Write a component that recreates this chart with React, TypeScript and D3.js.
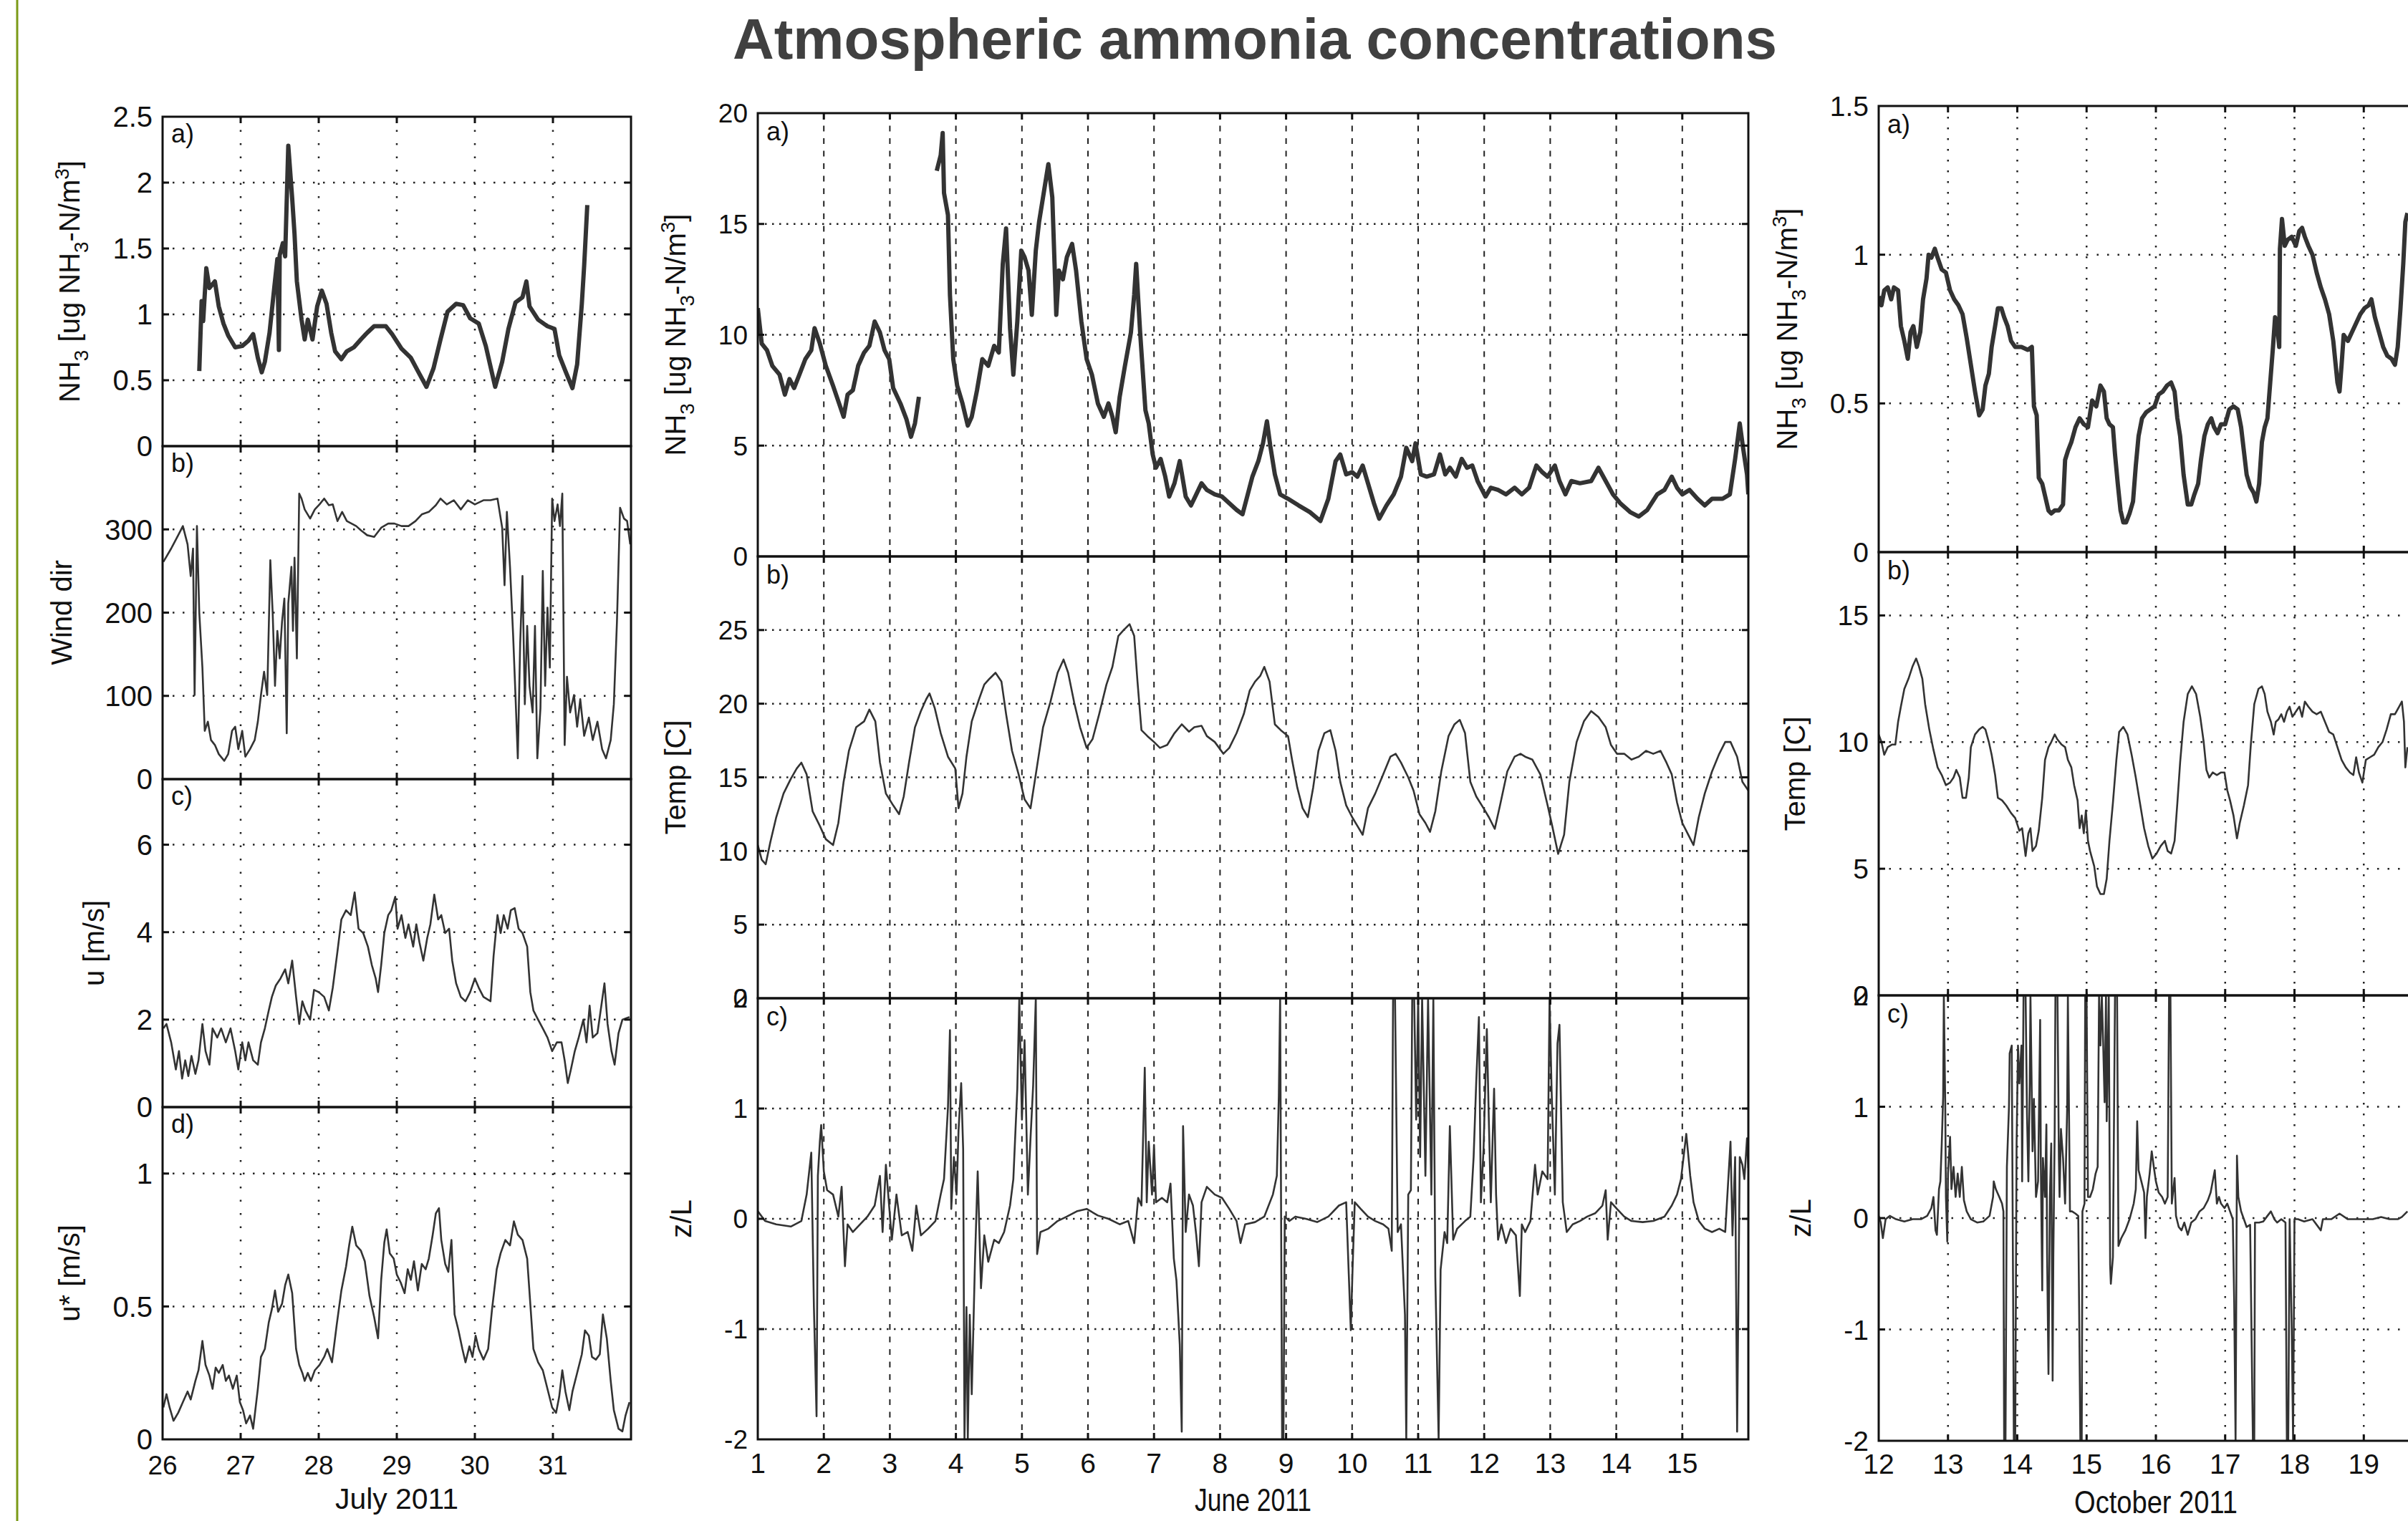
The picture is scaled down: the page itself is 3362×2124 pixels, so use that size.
import React from "react";
import * as d3 from "d3";

type Pt = [number, number];

// ---- July 2011 (left figure) ----
const julyTicks = [26, 27, 28, 29, 30, 31];

const julyNh3: Pt[] = [
  [26.47, 0.57], [26.5, 1.1], [26.52, 0.95], [26.56, 1.35], [26.6, 1.2], [26.67, 1.25], [26.72, 1.06], [26.78, 0.93],
  [26.84, 0.84], [26.93, 0.75], [27.02, 0.76], [27.1, 0.8], [27.16, 0.85], [27.22, 0.67], [27.27, 0.56], [27.31, 0.64],
  [27.37, 0.86], [27.43, 1.2], [27.47, 1.42], [27.49, 0.73], [27.5, 1.45], [27.54, 1.54], [27.57, 1.44], [27.61, 2.28],
  [27.66, 1.88], [27.69, 1.61], [27.72, 1.25], [27.78, 0.96], [27.82, 0.81], [27.86, 0.96], [27.92, 0.81], [27.98, 1.06],
  [28.04, 1.18], [28.1, 1.08], [28.16, 0.86], [28.21, 0.72], [28.29, 0.66], [28.36, 0.72], [28.45, 0.75], [28.54, 0.81],
  [28.62, 0.86], [28.71, 0.91], [28.86, 0.91], [28.94, 0.85], [29.06, 0.74], [29.18, 0.67], [29.27, 0.57], [29.38, 0.45],
  [29.47, 0.59], [29.56, 0.81], [29.65, 1.02], [29.76, 1.08], [29.85, 1.07], [29.94, 0.97], [30.05, 0.93], [30.14, 0.76],
  [30.26, 0.45], [30.35, 0.64], [30.43, 0.89], [30.52, 1.09], [30.61, 1.13], [30.66, 1.25], [30.7, 1.06], [30.81, 0.96],
  [30.93, 0.91], [31.02, 0.89], [31.08, 0.69], [31.16, 0.57], [31.25, 0.44], [31.31, 0.62], [31.37, 1.08], [31.4, 1.37],
  [31.44, 1.83],
];

const julyWind: Pt[] = [
  [26.01, 261], [26.11, 277], [26.2, 293], [26.26, 304], [26.32, 282], [26.36, 244], [26.39, 277], [26.41, 101],
  [26.44, 304], [26.47, 200], [26.51, 134], [26.54, 58], [26.58, 69], [26.62, 47], [26.67, 41], [26.72, 30],
  [26.79, 22], [26.84, 30], [26.89, 58], [26.93, 63], [26.97, 36], [27.02, 58], [27.06, 27], [27.12, 36],
  [27.18, 47], [27.22, 69], [27.26, 101], [27.3, 129], [27.34, 101], [27.38, 263], [27.41, 200], [27.44, 112],
  [27.47, 178], [27.5, 145], [27.53, 189], [27.56, 217], [27.59, 55], [27.61, 211], [27.65, 255], [27.67, 178],
  [27.69, 266], [27.72, 145], [27.75, 343], [27.78, 337], [27.82, 324], [27.89, 313], [27.95, 324], [28.01, 330],
  [28.07, 337], [28.13, 329], [28.18, 330], [28.24, 310], [28.3, 321], [28.36, 310], [28.42, 307], [28.48, 304],
  [28.54, 299], [28.62, 293], [28.71, 291], [28.8, 302], [28.89, 307], [28.97, 307], [29.06, 304], [29.15, 304],
  [29.24, 310], [29.32, 318], [29.41, 321], [29.5, 329], [29.56, 337], [29.64, 330], [29.73, 335], [29.82, 324],
  [29.91, 335], [30.0, 330], [30.11, 335], [30.2, 335], [30.29, 337], [30.35, 302], [30.38, 233], [30.41, 321],
  [30.45, 255], [30.49, 173], [30.52, 101], [30.55, 25], [30.58, 162], [30.61, 244], [30.64, 90], [30.67, 184],
  [30.7, 112], [30.74, 80], [30.77, 184], [30.8, 25], [30.84, 85], [30.87, 250], [30.9, 112], [30.93, 206],
  [30.96, 134], [30.99, 337], [31.02, 310], [31.06, 330], [31.09, 304], [31.12, 343], [31.15, 41], [31.18, 123],
  [31.22, 80], [31.27, 101], [31.31, 63], [31.35, 96], [31.4, 52], [31.46, 74], [31.51, 47], [31.57, 69],
  [31.63, 36], [31.68, 25], [31.74, 47], [31.78, 90], [31.82, 189], [31.86, 326], [31.91, 313], [31.95, 310],
  [31.99, 282],
];

const julyU: Pt[] = [
  [26.01, 1.8], [26.05, 1.9], [26.11, 1.48], [26.17, 0.86], [26.21, 1.28], [26.25, 0.65], [26.29, 1.07], [26.33, 0.71],
  [26.37, 1.17], [26.42, 0.76], [26.46, 1.07], [26.51, 1.9], [26.55, 1.28], [26.6, 0.97], [26.64, 1.8], [26.7, 1.59],
  [26.75, 1.8], [26.81, 1.48], [26.87, 1.8], [26.93, 1.28], [26.97, 0.86], [27.02, 1.48], [27.06, 1.07], [27.1, 1.48],
  [27.16, 1.07], [27.22, 0.97], [27.26, 1.48], [27.31, 1.8], [27.36, 2.21], [27.4, 2.52], [27.45, 2.78], [27.51, 2.94],
  [27.57, 3.15], [27.61, 2.83], [27.66, 3.35], [27.71, 2.52], [27.75, 1.9], [27.79, 2.42], [27.83, 2.21], [27.89, 2.0],
  [27.94, 2.68], [28.0, 2.63], [28.07, 2.52], [28.13, 2.21], [28.18, 2.73], [28.24, 3.56], [28.29, 4.29], [28.35, 4.5],
  [28.41, 4.39], [28.46, 4.91], [28.51, 4.08], [28.57, 3.98], [28.63, 3.67], [28.68, 3.25], [28.73, 2.94], [28.76, 2.63],
  [28.8, 3.25], [28.84, 3.98], [28.89, 4.39], [28.93, 4.5], [28.98, 4.81], [29.01, 4.08], [29.06, 4.39], [29.11, 3.87],
  [29.15, 4.18], [29.21, 3.67], [29.25, 4.18], [29.29, 3.77], [29.34, 3.35], [29.39, 3.87], [29.43, 4.18], [29.48, 4.86],
  [29.53, 4.29], [29.57, 4.39], [29.62, 3.98], [29.67, 4.08], [29.71, 3.35], [29.76, 2.83], [29.82, 2.52], [29.88, 2.42],
  [29.94, 2.63], [30.0, 2.94], [30.05, 2.73], [30.11, 2.52], [30.2, 2.42], [30.24, 3.46], [30.29, 4.39], [30.33, 3.98],
  [30.37, 4.39], [30.42, 4.08], [30.46, 4.5], [30.51, 4.55], [30.56, 4.08], [30.61, 3.98], [30.67, 3.67], [30.71, 2.63],
  [30.75, 2.21], [30.81, 2.0], [30.87, 1.8], [30.93, 1.59], [30.99, 1.28], [31.05, 1.48], [31.11, 1.48], [31.15, 1.07],
  [31.19, 0.55], [31.23, 0.86], [31.28, 1.28], [31.33, 1.59], [31.39, 2.0], [31.43, 1.48], [31.47, 2.32], [31.51, 1.59],
  [31.57, 1.69], [31.62, 2.32], [31.66, 2.83], [31.7, 1.9], [31.75, 1.28], [31.79, 0.97], [31.84, 1.69], [31.89, 2.0],
  [31.98, 2.06],
];

const julyUstar: Pt[] = [
  [26.01, 0.12], [26.05, 0.17], [26.09, 0.12], [26.14, 0.07], [26.2, 0.1], [26.26, 0.14], [26.32, 0.18], [26.36, 0.15],
  [26.42, 0.22], [26.46, 0.26], [26.51, 0.37], [26.55, 0.28], [26.6, 0.24], [26.64, 0.19], [26.68, 0.27], [26.72, 0.25],
  [26.77, 0.28], [26.81, 0.22], [26.85, 0.24], [26.9, 0.19], [26.95, 0.24], [26.99, 0.14], [27.03, 0.11], [27.07, 0.06],
  [27.12, 0.09], [27.16, 0.04], [27.22, 0.19], [27.26, 0.31], [27.31, 0.34], [27.36, 0.44], [27.4, 0.49], [27.44, 0.56],
  [27.48, 0.48], [27.53, 0.51], [27.57, 0.58], [27.61, 0.62], [27.66, 0.55], [27.71, 0.34], [27.75, 0.28], [27.79, 0.25],
  [27.82, 0.22], [27.86, 0.25], [27.9, 0.22], [27.95, 0.26], [28.01, 0.28], [28.07, 0.31], [28.11, 0.34], [28.17, 0.29],
  [28.23, 0.43], [28.29, 0.56], [28.35, 0.65], [28.39, 0.73], [28.43, 0.8], [28.48, 0.73], [28.54, 0.71], [28.59, 0.67],
  [28.65, 0.54], [28.71, 0.46], [28.76, 0.38], [28.8, 0.6], [28.84, 0.74], [28.87, 0.79], [28.91, 0.7], [28.96, 0.68],
  [29.0, 0.62], [29.05, 0.59], [29.1, 0.55], [29.14, 0.64], [29.18, 0.6], [29.22, 0.67], [29.27, 0.56], [29.32, 0.66],
  [29.37, 0.64], [29.41, 0.68], [29.46, 0.77], [29.5, 0.85], [29.54, 0.87], [29.57, 0.75], [29.62, 0.66], [29.66, 0.63],
  [29.7, 0.75], [29.74, 0.47], [29.79, 0.41], [29.84, 0.34], [29.88, 0.29], [29.93, 0.35], [29.97, 0.31], [30.01, 0.39],
  [30.05, 0.34], [30.11, 0.3], [30.17, 0.34], [30.22, 0.49], [30.28, 0.64], [30.33, 0.7], [30.39, 0.75], [30.45, 0.73],
  [30.5, 0.82], [30.55, 0.77], [30.61, 0.75], [30.67, 0.68], [30.71, 0.51], [30.75, 0.34], [30.81, 0.29], [30.87, 0.26],
  [30.93, 0.19], [30.99, 0.12], [31.04, 0.1], [31.08, 0.16], [31.12, 0.26], [31.16, 0.18], [31.21, 0.11], [31.25, 0.18],
  [31.31, 0.25], [31.37, 0.32], [31.41, 0.41], [31.46, 0.39], [31.5, 0.31], [31.55, 0.3], [31.6, 0.32], [31.64, 0.47],
  [31.69, 0.38], [31.74, 0.22], [31.78, 0.11], [31.84, 0.04], [31.89, 0.03], [31.93, 0.09], [31.98, 0.14],
];

// ---- June 2011 (middle figure) ----
const juneTicks = [1, 2, 3, 4, 5, 6, 7, 8, 9, 10, 11, 12, 13, 14, 15];

const juneNh3: Pt[] = [
  [1.0, 11.2], [1.06, 9.6], [1.14, 9.3], [1.22, 8.6], [1.33, 8.2], [1.41, 7.3], [1.48, 8.0], [1.55, 7.6], [1.63, 8.2],
  [1.72, 8.9], [1.81, 9.3], [1.86, 10.3], [1.94, 9.6], [2.03, 8.6], [2.14, 7.7], [2.22, 7.0], [2.3, 6.3], [2.36, 7.3],
  [2.44, 7.5], [2.52, 8.6], [2.61, 9.2], [2.69, 9.5], [2.77, 10.6], [2.85, 10.1], [2.92, 9.3], [2.99, 8.9], [3.05, 7.6],
  [3.16, 6.9], [3.25, 6.2], [3.32, 5.4], [3.38, 6.0], [3.44, 7.2], [3.5, NaN], [3.71, 17.4], [3.77, 18.1], [3.8, 19.1],
  [3.82, 16.4], [3.88, 15.4], [3.91, 11.8], [3.96, 8.9], [4.02, 7.7], [4.1, 6.9], [4.18, 5.9], [4.24, 6.3], [4.32, 7.5],
  [4.4, 8.9], [4.49, 8.6], [4.58, 9.5], [4.65, 9.2], [4.71, 13.2], [4.76, 14.8], [4.82, 10.3], [4.87, 8.2], [4.93, 10.6],
  [4.99, 13.8], [5.04, 13.5], [5.1, 12.9], [5.15, 10.9], [5.21, 13.8], [5.26, 15.1], [5.33, 16.4], [5.4, 17.7],
  [5.46, 16.2], [5.52, 10.9], [5.56, 12.9], [5.62, 12.5], [5.68, 13.5], [5.76, 14.1], [5.82, 12.9], [5.9, 10.6],
  [5.98, 8.9], [6.06, 8.2], [6.15, 6.9], [6.24, 6.3], [6.31, 6.9], [6.37, 6.3], [6.42, 5.6], [6.48, 7.2], [6.56, 8.6],
  [6.65, 10.1], [6.7, 11.8], [6.73, 13.2], [6.79, 10.1], [6.87, 6.6], [6.92, 6.0], [6.98, 4.6], [7.03, 4.0], [7.1, 4.4],
  [7.17, 3.6], [7.23, 2.7], [7.31, 3.3], [7.39, 4.3], [7.48, 2.7], [7.56, 2.3], [7.64, 2.8], [7.72, 3.3], [7.8, 3.0],
  [7.92, 2.8], [8.03, 2.7], [8.14, 2.4], [8.25, 2.1], [8.34, 1.9], [8.42, 2.8], [8.49, 3.6], [8.58, 4.3], [8.65, 5.1],
  [8.71, 6.1], [8.76, 5.0], [8.83, 3.7], [8.91, 2.8], [9.03, 2.6], [9.19, 2.3], [9.36, 2.0], [9.52, 1.6], [9.64, 2.6],
  [9.75, 4.3], [9.82, 4.6], [9.91, 3.7], [10.0, 3.8], [10.08, 3.6], [10.16, 4.1], [10.24, 3.3], [10.33, 2.4],
  [10.41, 1.7], [10.52, 2.3], [10.63, 2.8], [10.74, 3.6], [10.82, 4.9], [10.91, 4.3], [10.96, 5.1], [11.04, 3.7],
  [11.13, 3.6], [11.24, 3.7], [11.33, 4.6], [11.41, 3.7], [11.48, 4.0], [11.57, 3.6], [11.66, 4.4], [11.74, 4.0],
  [11.82, 4.1], [11.9, 3.4], [12.02, 2.7], [12.1, 3.1], [12.21, 3.0], [12.33, 2.8], [12.46, 3.1], [12.57, 2.8],
  [12.68, 3.1], [12.79, 4.1], [12.88, 3.8], [12.96, 3.6], [13.07, 4.1], [13.14, 3.4], [13.23, 2.8], [13.32, 3.4],
  [13.45, 3.3], [13.62, 3.4], [13.73, 4.0], [13.84, 3.4], [13.95, 2.8], [14.06, 2.4], [14.21, 2.0], [14.34, 1.8],
  [14.47, 2.1], [14.62, 2.8], [14.73, 3.0], [14.84, 3.6], [14.92, 3.1], [15.0, 2.8], [15.11, 3.0], [15.23, 2.6],
  [15.34, 2.3], [15.45, 2.6], [15.61, 2.6], [15.72, 2.8], [15.8, 4.4], [15.87, 6.0], [15.92, 4.9], [15.98, 3.7],
  [16.0, 2.8],
];

const juneTemp: Pt[] = [
  [1.0, 10.4], [1.06, 9.4], [1.12, 9.1], [1.19, 10.6], [1.28, 12.3], [1.39, 13.9], [1.5, 14.9], [1.59, 15.6], [1.66, 16.0],
  [1.74, 15.2], [1.83, 12.7], [1.94, 11.7], [2.03, 10.8], [2.14, 10.4], [2.22, 11.9], [2.3, 14.7], [2.38, 16.8],
  [2.49, 18.4], [2.61, 18.8], [2.69, 19.6], [2.78, 18.8], [2.85, 16.0], [2.94, 13.9], [3.05, 13.1], [3.14, 12.5],
  [3.21, 13.7], [3.29, 16.0], [3.38, 18.4], [3.47, 19.5], [3.55, 20.3], [3.6, 20.7], [3.68, 19.7], [3.77, 18.0],
  [3.88, 16.4], [3.99, 15.6], [4.04, 12.9], [4.1, 13.9], [4.16, 16.4], [4.24, 18.8], [4.35, 20.3], [4.43, 21.3],
  [4.51, 21.7], [4.6, 22.1], [4.69, 21.5], [4.76, 19.3], [4.85, 16.8], [4.95, 15.2], [5.04, 13.5], [5.13, 12.9],
  [5.21, 15.2], [5.32, 18.4], [5.43, 20.1], [5.54, 22.1], [5.63, 23.0], [5.7, 22.1], [5.79, 20.1], [5.88, 18.4],
  [5.98, 17.0], [6.07, 17.6], [6.17, 19.3], [6.28, 21.3], [6.37, 22.5], [6.46, 24.6], [6.54, 25.0], [6.63, 25.4],
  [6.7, 24.6], [6.75, 21.5], [6.81, 18.2], [6.9, 17.8], [7.0, 17.4], [7.09, 17.0], [7.2, 17.2], [7.31, 18.0],
  [7.42, 18.6], [7.53, 18.1], [7.61, 18.4], [7.72, 18.5], [7.8, 17.8], [7.92, 17.4], [8.05, 16.6], [8.14, 17.0],
  [8.25, 18.0], [8.36, 19.3], [8.45, 20.9], [8.53, 21.5], [8.61, 21.9], [8.67, 22.5], [8.75, 21.5], [8.83, 18.6],
  [8.92, 18.2], [9.03, 17.8], [9.09, 16.2], [9.17, 14.3], [9.25, 12.9], [9.33, 12.3], [9.41, 14.3], [9.49, 16.8],
  [9.58, 18.0], [9.67, 18.2], [9.75, 16.8], [9.82, 14.7], [9.91, 13.1], [10.0, 12.3], [10.08, 11.7], [10.16, 11.1],
  [10.24, 12.9], [10.35, 13.9], [10.47, 15.2], [10.58, 16.4], [10.66, 16.6], [10.74, 16.0], [10.85, 15.0],
  [10.93, 14.1], [11.02, 12.5], [11.11, 11.9], [11.18, 11.3], [11.26, 12.7], [11.35, 15.4], [11.46, 17.8],
  [11.55, 18.6], [11.63, 18.9], [11.71, 18.0], [11.79, 14.7], [11.88, 13.7], [11.99, 12.9], [12.07, 12.3],
  [12.16, 11.5], [12.24, 13.1], [12.35, 15.4], [12.46, 16.4], [12.55, 16.6], [12.62, 16.4], [12.73, 16.2],
  [12.85, 15.2], [12.96, 13.1], [13.03, 11.7], [13.12, 9.8], [13.21, 11.1], [13.29, 14.7], [13.4, 17.4], [13.51, 18.8],
  [13.62, 19.5], [13.73, 19.1], [13.84, 18.4], [13.92, 17.2], [14.01, 16.6], [14.12, 16.6], [14.23, 16.2],
  [14.34, 16.4], [14.45, 16.8], [14.56, 16.6], [14.67, 16.8], [14.76, 16.0], [14.84, 15.2], [14.92, 13.3],
  [15.0, 11.9], [15.09, 11.1], [15.17, 10.4], [15.25, 12.3], [15.34, 13.9], [15.45, 15.4], [15.56, 16.6],
  [15.65, 17.4], [15.73, 17.4], [15.83, 16.4], [15.91, 14.7], [16.0, 14.1],
];

const juneZL: Pt[] = [
  [1.0, 0.07], [1.11, -0.02], [1.28, -0.05], [1.5, -0.07], [1.66, -0.02], [1.74, 0.22], [1.81, 0.6], [1.85, -0.8],
  [1.89, -1.79], [1.91, 0.39], [1.94, 0.7], [1.96, 0.85], [2.0, 0.43], [2.05, 0.26], [2.14, 0.22], [2.22, 0.02],
  [2.27, 0.29], [2.32, -0.43], [2.36, -0.05], [2.44, -0.12], [2.55, -0.05], [2.66, 0.02], [2.77, 0.12], [2.85, 0.39],
  [2.89, -0.12], [2.94, 0.49], [2.97, 0.26], [3.03, -0.19], [3.1, 0.22], [3.18, -0.15], [3.27, -0.12], [3.34, -0.29],
  [3.4, 0.12], [3.47, -0.15], [3.58, -0.09], [3.69, -0.02], [3.77, 0.22], [3.82, 0.36], [3.88, 1.01], [3.91, 1.71],
  [3.93, 0.09], [3.97, 0.56], [4.01, 0.22], [4.04, 0.8], [4.08, 1.23], [4.11, 0.63], [4.13, -2], [4.16, -0.8],
  [4.18, -2], [4.21, -0.87], [4.24, -1.59], [4.29, -0.36], [4.33, 0.43], [4.38, -0.63], [4.43, -0.15], [4.49, -0.39],
  [4.58, -0.19], [4.65, -0.22], [4.73, -0.12], [4.82, 0.12], [4.87, 0.36], [4.93, 1.18], [4.96, 2], [5.0, 0.9],
  [5.04, 1.62], [5.09, 0.22], [5.13, 0.73], [5.17, 1.21], [5.21, 2], [5.23, -0.32], [5.28, -0.12], [5.4, -0.09],
  [5.54, -0.02], [5.68, 0.02], [5.84, 0.07], [5.98, 0.09], [6.15, 0.03], [6.31, 0], [6.48, -0.05], [6.61, -0.02],
  [6.7, -0.22], [6.76, 0.19], [6.81, 0.12], [6.86, 1.37], [6.89, 0.15], [6.92, 0.7], [6.97, 0.22], [7.0, 0.67],
  [7.03, 0.15], [7.12, 0.19], [7.2, 0.15], [7.25, 0.32], [7.3, -0.36], [7.34, -0.56], [7.39, -1.14], [7.42, -1.93],
  [7.44, 0.84], [7.48, -0.12], [7.53, 0.22], [7.59, 0.12], [7.64, -0.15], [7.68, -0.43], [7.72, 0.15], [7.8, 0.29],
  [7.92, 0.22], [8.03, 0.19], [8.14, 0.09], [8.25, -0.02], [8.31, -0.22], [8.38, -0.05], [8.53, -0.03], [8.67, 0.02],
  [8.8, 0.22], [8.86, 0.39], [8.89, 1.11], [8.91, 2], [8.94, -2], [8.96, -2], [8.98, 0.02], [9.05, -0.02], [9.14, 0.02],
  [9.3, 0], [9.47, -0.03], [9.64, 0.02], [9.8, 0.12], [9.91, 0.15], [9.98, -1.01], [10.01, -0.39], [10.04, 0.15],
  [10.13, 0.09], [10.24, 0.02], [10.35, -0.02], [10.47, -0.05], [10.55, -0.09], [10.6, -0.29], [10.62, 2], [10.65, 2],
  [10.69, -0.12], [10.74, -0.05], [10.8, -0.87], [10.82, -2], [10.85, 0.22], [10.89, 0.26], [10.91, 2], [10.94, 2],
  [10.97, 0.9], [11.0, 2], [11.03, 0.56], [11.06, 2], [11.11, 0.39], [11.15, 2], [11.2, 0.22], [11.23, 2],
  [11.26, -0.53], [11.31, -2], [11.34, -0.46], [11.4, -0.12], [11.44, -0.22], [11.48, 0.84], [11.53, -0.19],
  [11.59, -0.09], [11.71, -0.02], [11.79, 0.02], [11.84, 0.56], [11.88, 1.25], [11.92, 1.83], [11.95, 0.15],
  [11.99, 0.63], [12.04, 1.72], [12.07, 0.9], [12.1, 0.15], [12.15, 1.18], [12.18, 0.22], [12.21, -0.19],
  [12.26, -0.05], [12.33, -0.22], [12.4, -0.09], [12.48, -0.15], [12.54, -0.7], [12.57, -0.05], [12.62, -0.12],
  [12.7, -0.02], [12.77, 0.49], [12.81, 0.22], [12.88, 0.43], [12.96, 0.36], [12.99, 2], [13.02, 1.18], [13.07, 0.22],
  [13.11, 1.59], [13.14, 1.76], [13.19, 0.15], [13.25, -0.12], [13.34, -0.05], [13.45, -0.02], [13.56, 0.02],
  [13.68, 0.05], [13.79, 0.12], [13.84, 0.26], [13.87, -0.19], [13.92, 0.15], [14.01, 0.09], [14.12, 0.02],
  [14.23, -0.02], [14.4, -0.03], [14.56, -0.02], [14.73, 0.02], [14.84, 0.12], [14.92, 0.22], [14.98, 0.36],
  [15.06, 0.77], [15.12, 0.39], [15.17, 0.15], [15.25, -0.02], [15.34, -0.09], [15.45, -0.12], [15.56, -0.09],
  [15.65, -0.12], [15.73, 0.7], [15.76, -0.15], [15.8, 0.56], [15.83, -1.93], [15.87, 0.56], [15.91, 0.49],
  [15.94, 0.36], [15.98, 0.73], [16.0, 0.46],
];

// ---- October 2011 (right figure, cut at the image edge) ----
const octTicks = [12, 13, 14, 15, 16, 17, 18, 19];

const octNh3: Pt[] = [
  [12.0, 0.86], [12.04, 0.83], [12.08, 0.88], [12.13, 0.89], [12.18, 0.85], [12.22, 0.89], [12.28, 0.88], [12.32, 0.76],
  [12.37, 0.71], [12.42, 0.65], [12.46, 0.74], [12.5, 0.76], [12.55, 0.69], [12.6, 0.74], [12.64, 0.85], [12.69, 0.92],
  [12.72, 1.0], [12.76, 0.99], [12.81, 1.02], [12.85, 0.99], [12.91, 0.95], [12.97, 0.94], [13.03, 0.88], [13.09, 0.85],
  [13.15, 0.83], [13.21, 0.8], [13.27, 0.72], [13.33, 0.63], [13.39, 0.54], [13.45, 0.46], [13.5, 0.48], [13.54, 0.56],
  [13.59, 0.6], [13.63, 0.69], [13.68, 0.76], [13.72, 0.82], [13.77, 0.82], [13.81, 0.79], [13.86, 0.76], [13.91, 0.71],
  [13.97, 0.69], [14.06, 0.69], [14.15, 0.68], [14.21, 0.69], [14.24, 0.49], [14.28, 0.46], [14.31, 0.25], [14.36, 0.23],
  [14.4, 0.19], [14.45, 0.14], [14.49, 0.13], [14.54, 0.14], [14.6, 0.14], [14.66, 0.16], [14.69, 0.31], [14.73, 0.34],
  [14.78, 0.37], [14.84, 0.42], [14.9, 0.45], [14.96, 0.43], [15.02, 0.42], [15.08, 0.51], [15.14, 0.49], [15.2, 0.56],
  [15.25, 0.54], [15.29, 0.45], [15.33, 0.43], [15.38, 0.42], [15.41, 0.33], [15.45, 0.23], [15.49, 0.14], [15.53, 0.1],
  [15.57, 0.1], [15.62, 0.13], [15.67, 0.17], [15.71, 0.29], [15.75, 0.39], [15.8, 0.45], [15.86, 0.47], [15.92, 0.48],
  [15.98, 0.49], [16.04, 0.53], [16.1, 0.54], [16.16, 0.56], [16.22, 0.57], [16.27, 0.54], [16.31, 0.45], [16.35, 0.39],
  [16.4, 0.26], [16.46, 0.16], [16.51, 0.16], [16.55, 0.19], [16.61, 0.23], [16.65, 0.31], [16.7, 0.39], [16.75, 0.43],
  [16.8, 0.45], [16.84, 0.42], [16.89, 0.4], [16.94, 0.43], [17.0, 0.43], [17.06, 0.48], [17.12, 0.49], [17.18, 0.48],
  [17.23, 0.42], [17.27, 0.34], [17.31, 0.26], [17.36, 0.22], [17.41, 0.2], [17.45, 0.17], [17.49, 0.23], [17.53, 0.37],
  [17.57, 0.42], [17.61, 0.45], [17.65, 0.57], [17.69, 0.69], [17.72, 0.79], [17.75, 0.76], [17.78, 0.69], [17.79, 1.02],
  [17.82, 1.12], [17.86, 1.03], [17.9, 1.05], [17.96, 1.06], [18.02, 1.03], [18.07, 1.08], [18.11, 1.09], [18.15, 1.06],
  [18.2, 1.03], [18.26, 1.0], [18.32, 0.94], [18.38, 0.89], [18.44, 0.85], [18.5, 0.8], [18.56, 0.71], [18.62, 0.57],
  [18.65, 0.54], [18.68, 0.63], [18.71, 0.73], [18.77, 0.71], [18.83, 0.74], [18.89, 0.77], [18.95, 0.8], [19.01, 0.82],
  [19.07, 0.83], [19.11, 0.85], [19.16, 0.79], [19.22, 0.74], [19.28, 0.69], [19.34, 0.66], [19.4, 0.65], [19.45, 0.63],
  [19.49, 0.69], [19.53, 0.82], [19.57, 0.97], [19.6, 1.11], [19.63, 1.14],
];

const octTemp: Pt[] = [
  [12.0, 10.3], [12.04, 10.0], [12.08, 9.5], [12.13, 9.8], [12.19, 9.9], [12.24, 9.9], [12.28, 10.8], [12.32, 11.4],
  [12.37, 12.1], [12.43, 12.5], [12.49, 13.0], [12.54, 13.3], [12.58, 13.0], [12.63, 12.5], [12.67, 11.5], [12.73, 10.5],
  [12.79, 9.7], [12.85, 9.0], [12.91, 8.7], [12.97, 8.3], [13.03, 8.4], [13.08, 8.6], [13.12, 8.9], [13.17, 8.6],
  [13.21, 7.8], [13.26, 7.8], [13.3, 8.6], [13.33, 9.8], [13.39, 10.3], [13.45, 10.5], [13.5, 10.6], [13.54, 10.5],
  [13.59, 10.0], [13.63, 9.5], [13.68, 8.7], [13.72, 7.8], [13.78, 7.7], [13.84, 7.5], [13.91, 7.2], [13.97, 7.0],
  [14.03, 6.5], [14.07, 6.6], [14.12, 5.5], [14.16, 6.4], [14.19, 6.6], [14.22, 5.7], [14.27, 5.9], [14.31, 6.5],
  [14.36, 7.8], [14.4, 9.3], [14.45, 9.8], [14.49, 10.0], [14.54, 10.3], [14.58, 10.1], [14.64, 9.9], [14.69, 9.8],
  [14.73, 9.3], [14.78, 9.0], [14.82, 8.3], [14.87, 7.7], [14.9, 6.6], [14.93, 7.1], [14.96, 6.4], [14.99, 7.3],
  [15.02, 6.1], [15.05, 5.7], [15.11, 5.1], [15.15, 4.3], [15.2, 4.0], [15.25, 4.0], [15.29, 4.6], [15.33, 6.1],
  [15.38, 7.6], [15.43, 9.3], [15.47, 10.4], [15.53, 10.6], [15.59, 10.3], [15.65, 9.5], [15.71, 8.6], [15.77, 7.6],
  [15.83, 6.6], [15.89, 5.9], [15.95, 5.4], [16.01, 5.6], [16.07, 5.9], [16.13, 6.1], [16.17, 5.7], [16.22, 5.6],
  [16.27, 6.1], [16.31, 7.6], [16.35, 9.2], [16.4, 10.8], [16.46, 11.9], [16.52, 12.2], [16.58, 11.9], [16.64, 11.0],
  [16.69, 10.0], [16.73, 8.9], [16.77, 8.6], [16.82, 8.8], [16.88, 8.7], [16.94, 8.8], [16.99, 8.8], [17.03, 8.1],
  [17.07, 7.7], [17.12, 7.1], [17.17, 6.2], [17.21, 6.8], [17.27, 7.5], [17.33, 8.3], [17.37, 9.9], [17.42, 11.5],
  [17.48, 12.1], [17.53, 12.2], [17.57, 11.9], [17.61, 11.2], [17.66, 10.8], [17.7, 10.3], [17.73, 10.8], [17.77, 10.9],
  [17.81, 11.1], [17.85, 10.8], [17.89, 11.2], [17.93, 11.4], [17.97, 11.0], [18.02, 11.2], [18.07, 11.4], [18.11, 11.0],
  [18.15, 11.6], [18.2, 11.4], [18.26, 11.2], [18.32, 11.1], [18.38, 11.2], [18.44, 10.8], [18.5, 10.4], [18.56, 10.3],
  [18.62, 9.8], [18.68, 9.3], [18.74, 9.0], [18.8, 8.8], [18.85, 8.7], [18.89, 9.4], [18.93, 8.8], [18.98, 8.4],
  [19.03, 9.3], [19.09, 9.4], [19.15, 9.5], [19.21, 9.8], [19.27, 10.0], [19.33, 10.5], [19.39, 11.1], [19.45, 11.1],
  [19.51, 11.4], [19.55, 11.6], [19.58, 10.8], [19.6, 9.0], [19.63, 9.8],
];

const octZL: Pt[] = [
  [12.0, 0.02], [12.03, -0.04], [12.06, -0.18], [12.1, -0.01], [12.16, 0.02], [12.25, -0.01], [12.37, -0.03],
  [12.49, -0.01], [12.61, -0.01], [12.7, 0.02], [12.76, 0.09], [12.79, 0.19], [12.82, -0.11], [12.84, -0.15],
  [12.87, 0.26], [12.89, 0.33], [12.91, 0.67], [12.93, 1.09], [12.94, 2], [12.96, 1.04], [12.97, 0.19], [12.99, -0.21],
  [13.0, 0.4], [13.03, 0.73], [13.05, 0.26], [13.08, 0.46], [13.11, 0.19], [13.14, 0.4], [13.17, 0.19], [13.2, 0.46],
  [13.23, 0.16], [13.27, 0.06], [13.33, -0.01], [13.42, -0.04], [13.51, -0.03], [13.6, 0.02], [13.65, 0.19],
  [13.66, 0.33], [13.69, 0.26], [13.74, 0.19], [13.78, 0.13], [13.8, 0.06], [13.81, -2], [13.83, -2], [13.85, 0.46],
  [13.88, 1.0], [13.89, 1.48], [13.92, 1.55], [13.94, -0.72], [13.95, -2], [13.97, -2], [13.99, 0.67], [14.01, 1.55],
  [14.03, 1.21], [14.06, 1.55], [14.07, 0.33], [14.09, 2], [14.12, 2], [14.14, 0.94], [14.16, 0.33], [14.18, 1.21],
  [14.19, 2], [14.22, 0.6], [14.24, 1.07], [14.27, 0.19], [14.3, 0.33], [14.33, 1.78], [14.34, 0.46], [14.36, -0.65],
  [14.37, 0.54], [14.4, 0.19], [14.42, 0.84], [14.43, -0.31], [14.45, -1.4], [14.47, 0.19], [14.49, 0.67],
  [14.51, -1.46], [14.52, -0.35], [14.54, 0.8], [14.55, 2], [14.58, 2], [14.6, 0.54], [14.61, 0.19], [14.63, 0.8],
  [14.66, 0.54], [14.69, 0.13], [14.72, 1.0], [14.73, 2], [14.76, 0.06], [14.79, 0.06], [14.84, 0.04], [14.88, 0.02],
  [14.91, -2], [14.93, -2], [14.94, 0.06], [14.97, 0.13], [14.98, 2], [15.0, 2], [15.02, 0.19], [15.05, 0.19],
  [15.09, 0.26], [15.13, 0.4], [15.16, 0.46], [15.18, 2], [15.2, 1.55], [15.22, 2], [15.24, 1.55], [15.26, 1.04],
  [15.28, 2], [15.29, 0.87], [15.32, 2], [15.34, -0.42], [15.35, -0.59], [15.38, -0.35], [15.41, 2], [15.44, 2],
  [15.46, -0.25], [15.5, -0.18], [15.56, -0.11], [15.62, -0.01], [15.68, 0.13], [15.71, 0.26], [15.73, 0.87],
  [15.75, 0.43], [15.79, 0.33], [15.83, 0.23], [15.85, -0.18], [15.87, 0.19], [15.91, 0.4], [15.94, 0.6],
  [15.97, 0.46], [16.0, 0.33], [16.04, 0.23], [16.09, 0.19], [16.13, 0.13], [16.17, 0.19], [16.19, 2], [16.21, 2],
  [16.23, 0.13], [16.27, 0.36], [16.29, 0.02], [16.33, -0.08], [16.37, -0.11], [16.41, -0.04], [16.46, -0.15],
  [16.51, -0.04], [16.57, -0.01], [16.63, 0.06], [16.69, 0.09], [16.75, 0.16], [16.79, 0.23], [16.82, 0.33],
  [16.85, 0.43], [16.88, 0.13], [16.91, 0.19], [16.94, 0.13], [16.99, 0.09], [17.03, 0.13], [17.07, 0.06],
  [17.11, -0.01], [17.13, -0.75], [17.15, -2], [17.17, 0.56], [17.19, 0.19], [17.23, 0.06], [17.27, -0.01],
  [17.31, -0.08], [17.36, -0.06], [17.4, -2], [17.42, -2], [17.43, -0.04], [17.49, -0.04], [17.55, -0.03], [17.61, 0.02],
  [17.66, 0.06], [17.71, -0.01], [17.75, -0.04], [17.81, -0.01], [17.87, -0.04], [17.89, -2], [17.91, -2],
  [17.93, -0.01], [17.96, -0.99], [17.98, -2], [18.0, -0.01], [18.05, -0.01], [18.14, -0.03], [18.26, -0.01],
  [18.38, -0.11], [18.41, -0.01], [18.53, -0.01], [18.65, 0.04], [18.77, -0.01], [18.89, -0.01], [19.01, -0.01],
  [19.13, -0.01], [19.25, 0.01], [19.37, -0.01], [19.49, -0.01], [19.55, 0.01], [19.63, 0.06],
];

const FONT = "'Liberation Sans', Arial, Helvetica, sans-serif";
const W = 3362;
const H = 2124;

// approximate glyph widths (em) for tick labels
const charW = (s: string) =>
  Array.from(s).reduce((w, c) => w + (c === "." ? 0.278 : c === "-" ? 0.333 : 0.556), 0);

const nh3Label = (
  <>
    <tspan>NH</tspan>
    <tspan fontSize={28} dy={12}>3</tspan>
    <tspan dy={-12}>{" [ug NH"}</tspan>
    <tspan fontSize={28} dy={12}>3</tspan>
    <tspan dy={-12}>{"-N/m"}</tspan>
    <tspan fontSize={28} dy={-15}>3</tspan>
    <tspan dy={15}>]</tspan>
  </>
);

type PanelDef = {
  tag: string;
  ylabel: React.ReactNode;
  top: number;
  bottom: number;
  yDomain: [number, number];
  yTicks: number[];
  data: Pt[];
  heavy?: boolean;
};

type ColumnDef = {
  key: string;
  left: number;
  right: number;
  xDomain: [number, number];
  xTicks: number[];
  xlabel: string;
  xlabelFit: number;
  yTickSize: number;
  xTickSize: number;
  xlabelSize: number;
  xTickBase: number;
  xlabelBase: number;
  hDash: string;
  vDash: string;
  vWidth: number;
  tagDy: number;
  panels: PanelDef[];
};

const columns: ColumnDef[] = [
  {
    key: "jul", left: 227, right: 881, xDomain: [26, 32], xTicks: julyTicks,
    xlabel: "July 2011", xlabelFit: 172, yTickSize: 40, xTickSize: 37, xlabelSize: 40,
    xTickBase: 2059, xlabelBase: 2107, hDash: "2.5 11.5", vDash: "2.5 16", vWidth: 2.5, tagDy: 36,
    panels: [
      { tag: "a)", ylabel: nh3Label, top: 163, bottom: 623, yDomain: [0, 2.5], yTicks: [0, 0.5, 1, 1.5, 2, 2.5], data: julyNh3, heavy: true },
      { tag: "b)", ylabel: "Wind dir", top: 623, bottom: 1088, yDomain: [0, 400], yTicks: [0, 100, 200, 300], data: julyWind },
      { tag: "c)", ylabel: "u [m/s]", top: 1088, bottom: 1546, yDomain: [0, 7.5], yTicks: [0, 2, 4, 6], data: julyU },
      { tag: "d)", ylabel: "u* [m/s]", top: 1546, bottom: 2010, yDomain: [0, 1.25], yTicks: [0, 0.5, 1], data: julyUstar },
    ],
  },
  {
    key: "jun", left: 1058, right: 2441, xDomain: [1, 16], xTicks: juneTicks,
    xlabel: "June 2011", xlabelFit: 163, yTickSize: 37, xTickSize: 39, xlabelSize: 44,
    xTickBase: 2057, xlabelBase: 2110, hDash: "2.5 7.5", vDash: "8 9.5", vWidth: 2, tagDy: 38,
    panels: [
      { tag: "a)", ylabel: nh3Label, top: 158, bottom: 777, yDomain: [0, 20], yTicks: [0, 5, 10, 15, 20], data: juneNh3, heavy: true },
      { tag: "b)", ylabel: "Temp [C]", top: 777, bottom: 1394, yDomain: [0, 30], yTicks: [0, 5, 10, 15, 20, 25], data: juneTemp },
      { tag: "c)", ylabel: "z/L", top: 1394, bottom: 2010, yDomain: [-2, 2], yTicks: [-2, -1, 0, 1, 2], data: juneZL },
    ],
  },
  {
    key: "oct", left: 2623, right: 3397, xDomain: [12, 20], xTicks: octTicks,
    xlabel: "October 2011", xlabelFit: 228, yTickSize: 39, xTickSize: 39, xlabelSize: 44,
    xTickBase: 2058, xlabelBase: 2113, hDash: "2.5 12", vDash: "2.5 12.5", vWidth: 2.5, tagDy: 38,
    panels: [
      { tag: "a)", ylabel: nh3Label, top: 148, bottom: 771, yDomain: [0, 1.5], yTicks: [0, 0.5, 1, 1.5], data: octNh3, heavy: true },
      { tag: "b)", ylabel: "Temp [C]", top: 771, bottom: 1390, yDomain: [0, 17.5], yTicks: [0, 5, 10, 15], data: octTemp },
      { tag: "c)", ylabel: "z/L", top: 1390, bottom: 2012, yDomain: [-2, 2], yTicks: [-2, -1, 0, 1, 2], data: octZL },
    ],
  },
];

const fmt = (v: number) => String(v);

function Panel({ col, p, i, last }: { col: ColumnDef; p: PanelDef; i: number; last: boolean }) {
  const x = d3.scaleLinear().domain(col.xDomain).range([col.left, col.right]);
  const y = d3.scaleLinear().domain(p.yDomain).range([p.bottom, p.top]);
  const line = d3
    .line<Pt>()
    .defined((d) => Number.isFinite(d[1]))
    .x((d) => x(d[0]))
    .y((d) => y(d[1]));
  const clipId = `clip-${col.key}-${i}`;
  const innerX = col.xTicks.filter((t) => t > col.xDomain[0] && t < col.xDomain[1]);
  const innerY = p.yTicks.filter((t) => t > p.yDomain[0] && t < p.yDomain[1]);
  const tickRight = col.left - 14;
  const maxW = Math.max(...p.yTicks.map((t) => charW(fmt(t)))) * col.yTickSize;
  const labelX = tickRight - maxW - 46;
  const tl = 9;

  return (
    <g>
      <defs>
        <clipPath id={clipId}>
          <rect x={col.left} y={p.top} width={col.right - col.left} height={p.bottom - p.top} />
        </clipPath>
      </defs>
      <g stroke="#222" fill="none">
        {innerX.map((t) => (
          <line key={`gx${t}`} x1={x(t)} x2={x(t)} y1={p.top} y2={p.bottom}
            strokeWidth={col.vWidth} strokeDasharray={col.vDash} />
        ))}
        {innerY.map((t) => (
          <line key={`gy${t}`} x1={col.left} x2={col.right} y1={y(t)} y2={y(t)}
            strokeWidth={2.5} strokeDasharray={col.hDash} />
        ))}
      </g>
      <path d={line(p.data) ?? ""} fill="none" stroke="#333" strokeWidth={p.heavy ? 6 : 2.6}
        strokeLinejoin="round" clipPath={`url(#${clipId})`} />
      <rect x={col.left} y={p.top} width={col.right - col.left} height={p.bottom - p.top}
        fill="none" stroke="#111" strokeWidth={3} />
      <g stroke="#111" strokeWidth={3}>
        {innerX.map((t) => (
          <g key={`tx${t}`}>
            <line x1={x(t)} x2={x(t)} y1={p.bottom} y2={p.bottom - tl} />
            <line x1={x(t)} x2={x(t)} y1={p.top} y2={p.top + tl} />
          </g>
        ))}
        {innerY.map((t) => (
          <g key={`ty${t}`}>
            <line x1={col.left} x2={col.left + tl} y1={y(t)} y2={y(t)} />
            <line x1={col.right} x2={col.right - tl} y1={y(t)} y2={y(t)} />
          </g>
        ))}
      </g>
      <g fontFamily={FONT} fill="#111">
        {p.yTicks.map((t) => (
          <text key={`ly${t}`} x={tickRight} y={y(t)} dy="0.36em" textAnchor="end" fontSize={col.yTickSize}>
            {fmt(t)}
          </text>
        ))}
        <text x={col.left + 12} y={p.top + col.tagDy} fontSize={36}>{p.tag}</text>
        <text transform={`translate(${labelX},${(p.top + p.bottom) / 2}) rotate(-90)`}
          textAnchor="middle" fontSize={40} style={{ whiteSpace: "pre" }}>
          {p.ylabel}
        </text>
        {last && (
          <>
            {col.xTicks.map((t) => (
              <text key={`lx${t}`} x={x(t)} y={col.xTickBase} textAnchor="middle" fontSize={col.xTickSize}>
                {fmt(t)}
              </text>
            ))}
            <text x={(col.left + col.right) / 2} y={col.xlabelBase} textAnchor="middle"
              fontSize={col.xlabelSize} textLength={col.xlabelFit} lengthAdjust="spacingAndGlyphs">
              {col.xlabel}
            </text>
          </>
        )}
      </g>
    </g>
  );
}

export default function App() {
  return (
    <svg width={W} height={H} viewBox={`0 0 ${W} ${H}`}
      style={{ position: "absolute", left: 0, top: 0, display: "block", background: "#fff" }}>
      <rect x={0} y={0} width={W} height={H} fill="#fff" />
      <line x1={24} x2={24} y1={0} y2={H} stroke="#7b9a17" strokeWidth={3} />
      <text x={1752} y={82} textAnchor="middle" fontFamily={FONT} fontWeight="bold" fontSize={80} fill="#404040">
        Atmospheric ammonia concentrations
      </text>
      {columns.map((col) => (
        <g key={col.key}>
          {col.panels.map((p, i) => (
            <Panel key={i} col={col} p={p} i={i} last={i === col.panels.length - 1} />
          ))}
        </g>
      ))}
    </svg>
  );
}
